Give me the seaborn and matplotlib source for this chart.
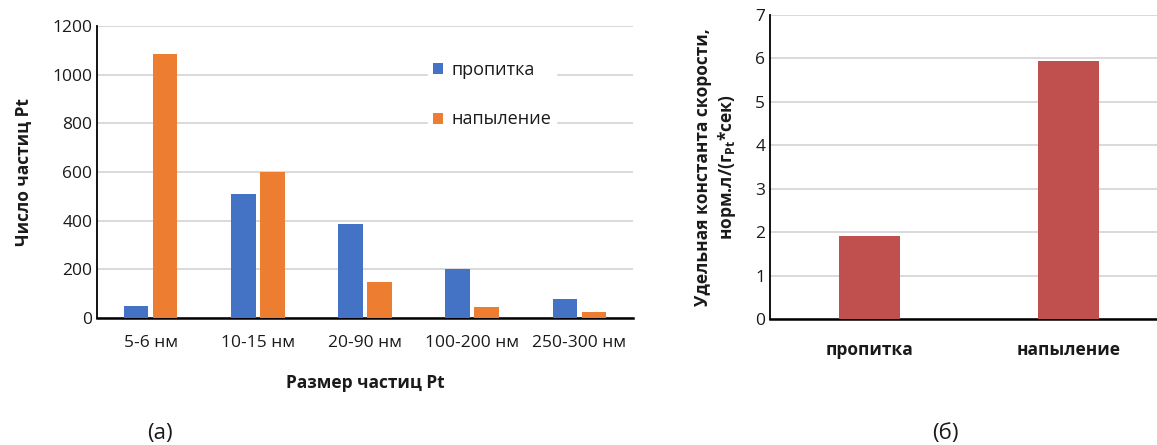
import matplotlib
matplotlib.use("Agg")
import matplotlib.pyplot as plt
import seaborn as sns
import pandas as pd

# Particle size distribution (panel a)
sizes = ["5-6 нм", "10-15 нм", "20-90 нм", "100-200 нм", "250-300 нм"]
impregnation = [50, 510, 385, 200, 80]
sputtering = [1085, 600, 150, 45, 25]
series_names = ["пропитка", "напыление"]

# Specific rate constant (panel b)
methods = ["пропитка", "напыление"]
rate_const = [1.9, 5.95]

sns.set_theme(style="white")
plt.rcParams["font.family"] = ["Open Sans", "DejaVu Sans"]

BLUE = "#4472C4"
ORANGE = "#ED7D31"
RED = "#C0504D"
GRID = "#D9D9D9"
TEXT = "#1a1a1a"

fig = plt.figure(figsize=(11.57, 4.45), dpi=100)
W, H = 1157, 445

def axes_px(x0, y_top, x1, y_bottom):
    return fig.add_axes([x0 / W, 1 - y_bottom / H, (x1 - x0) / W, (y_bottom - y_top) / H])

def style_axes(ax):
    ax.yaxis.grid(True, color=GRID, linewidth=1.4, zorder=0)
    ax.set_axisbelow(True)
    for s in ["top", "right"]:
        ax.spines[s].set_visible(False)
    ax.spines["left"].set_color("black")
    ax.spines["left"].set_linewidth(1.3)
    ax.spines["bottom"].set_color("black")
    ax.spines["bottom"].set_linewidth(1.8)
    ax.tick_params(axis="both", length=0, labelsize=12.5, colors=TEXT)
    ax.tick_params(axis="x", pad=12)

# ---- panel (a)
ax1 = axes_px(97, 26, 633, 318)
df1 = pd.DataFrame({
    "size": sizes * 2,
    "count": impregnation + sputtering,
    "method": [series_names[0]] * len(sizes) + [series_names[1]] * len(sizes),
})
sns.barplot(data=df1, x="size", y="count", hue="method", order=sizes,
            hue_order=series_names, palette=[BLUE, ORANGE],
            width=0.54, gap=0.15, saturation=1, linewidth=0, edgecolor="none",
            ax=ax1, zorder=3)
ax1.set_xlim(-0.5, len(sizes) - 0.5)
ax1.set_ylim(0, 1200)
ax1.set_yticks(range(0, 1201, 200))
style_axes(ax1)
ax1.set_xlabel("Размер частиц Pt", fontsize=12.5, fontweight="bold", labelpad=17, color=TEXT)
ax1.set_ylabel("Число частиц Pt", fontsize=12.5, fontweight="bold", labelpad=14, color=TEXT)
leg = ax1.legend(loc="upper left", bbox_to_anchor=(0.6, 0.93), frameon=True,
                 facecolor="white", edgecolor="white", framealpha=1,
                 fontsize=13, labelspacing=1.75, handlelength=0.55, handleheight=0.55,
                 handletextpad=0.45, borderpad=0.3, fancybox=False)
for t in leg.get_texts():
    t.set_color(TEXT)
leg.set_zorder(5)

# ---- panel (b)
ax2 = axes_px(770, 15, 1168, 319)
df2 = pd.DataFrame({"method": methods, "k": rate_const})
sns.barplot(data=df2, x="method", y="k", order=methods, color=RED,
            width=0.31, saturation=1, linewidth=0, edgecolor="none",
            ax=ax2, zorder=3)
ax2.set_xlim(-0.5, len(methods) - 0.5)
ax2.set_ylim(0, 7)
ax2.set_yticks(range(0, 8))
style_axes(ax2)
ax2.tick_params(axis="x", pad=16)
for lbl in ax2.get_xticklabels():
    lbl.set_fontweight("bold")
ax2.set_xlabel("")
ax2.set_ylabel("Удельная константа скорости,\nнорм.л/(г$_{\\mathregular{Pt}}$*сек)",
               fontsize=12.5, fontweight="bold", labelpad=12, linespacing=1.25, color=TEXT)

# panel captions
fig.text(160 / W, 1 - 433 / H, "(а)", fontsize=16, ha="center", va="center", color=TEXT)
fig.text(945 / W, 1 - 433 / H, "(б)", fontsize=16, ha="center", va="center", color=TEXT)

fig.savefig("out.png", dpi=100)
